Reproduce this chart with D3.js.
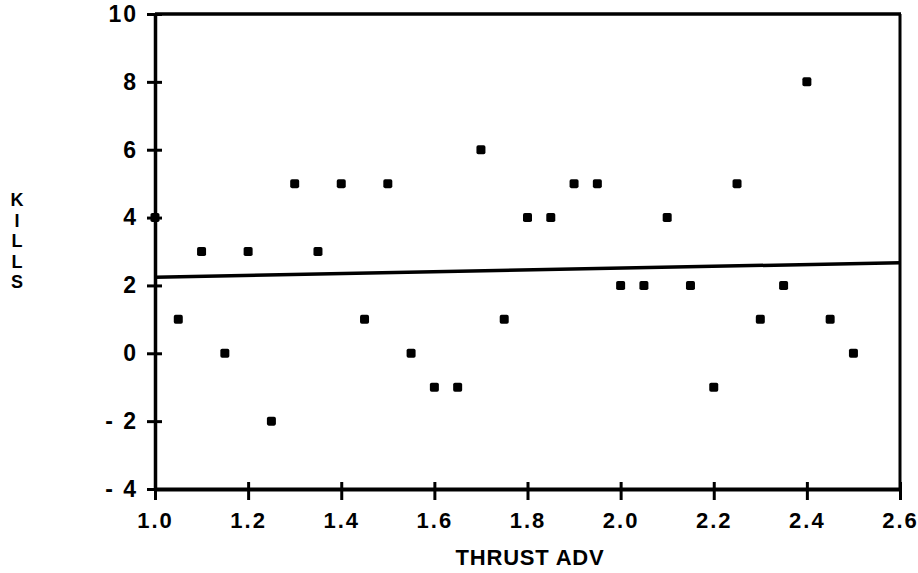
<!DOCTYPE html>
<html>
<head>
<meta charset="utf-8">
<script src="https://cdn.jsdelivr.net/npm/d3@7"></script>
<style>
  body { margin: 0; background: #fff; }
  svg text { font-family: "Liberation Sans", Arial, sans-serif; fill: #000; }
</style>
</head>
<body>
<svg id="chart" width="918" height="573"></svg>
<script>
// ---- data ----
const thrustAdv = [1.00, 1.05, 1.10, 1.15, 1.20, 1.25, 1.30, 1.35, 1.40, 1.45, 1.50,
                   1.55, 1.60, 1.65, 1.70, 1.75, 1.80, 1.85, 1.90, 1.95, 2.00,
                   2.05, 2.10, 2.15, 2.20, 2.25, 2.30, 2.35, 2.40, 2.45, 2.50];
const kills = [4, 1, 3, 0, 3, -2, 5, 3, 5, 1, 5,
               0, -1, -1, 6, 1, 4, 4, 5, 5, 2,
               2, 4, 2, -1, 5, 1, 2, 8, 1, 0];
const fitX = [1.0, 2.6];
const fitY = [2.24, 2.67];
const xTicks = [1.0, 1.2, 1.4, 1.6, 1.8, 2.0, 2.2, 2.4, 2.6];
const xTickLabels = ["1.0", "1.2", "1.4", "1.6", "1.8", "2.0", "2.2", "2.4", "2.6"];
const yTicks = [-4, -2, 0, 2, 4, 6, 8, 10];
const yTickLabels = ["- 4", "- 2", "0", "2", "4", "6", "8", "10"];
const xTitle = "THRUST ADV";
const yTitle = "KILLS";

// ---- layout ----
const svg = d3.select("#chart");
const mLeft = 155, mRight = 900, mTop = 14, mBottom = 489;
const x = d3.scaleLinear().domain([1.0, 2.6]).range([mLeft, mRight]);
const y = d3.scaleLinear().domain([-4, 10]).range([mBottom, mTop]);

// frame (top and right lines, no ticks)
svg.append("line").attr("x1", mLeft).attr("x2", mRight + 1).attr("y1", mTop).attr("y2", mTop)
  .attr("stroke", "#000").attr("stroke-width", 3.5);
svg.append("line").attr("x1", mRight).attr("x2", mRight).attr("y1", mTop).attr("y2", mBottom)
  .attr("stroke", "#000").attr("stroke-width", 3);

// x axis
const xAxis = d3.axisBottom(x).tickValues(xTicks)
  .tickFormat((d, i) => xTickLabels[i]).tickSizeInner(11).tickSizeOuter(0).tickPadding(12);
const gx = svg.append("g").attr("transform", `translate(0,${mBottom})`).call(xAxis);
gx.select(".domain").attr("stroke", "#000").attr("stroke-width", 4);
gx.selectAll(".tick line").attr("stroke", "#000").attr("stroke-width", 3).attr("y1", -7);
gx.selectAll(".tick text").attr("font-size", 22).attr("font-weight", "bold").attr("letter-spacing", 2);

// y axis
const yAxis = d3.axisLeft(y).tickValues(yTicks)
  .tickFormat((d, i) => yTickLabels[i]).tickSizeInner(8).tickSizeOuter(0).tickPadding(9);
const gy = svg.append("g").attr("transform", `translate(${mLeft},0)`).call(yAxis);
gy.select(".domain").attr("stroke", "#000").attr("stroke-width", 3.5);
gy.selectAll(".tick line").attr("stroke", "#000").attr("stroke-width", 3).attr("x2", 7).attr("x1", -8);
gy.selectAll(".tick text").attr("font-size", 23).attr("font-weight", "bold").attr("letter-spacing", 2);

// fit line
svg.append("line")
  .attr("x1", x(fitX[0])).attr("y1", y(fitY[0]))
  .attr("x2", x(fitX[1])).attr("y2", y(fitY[1]))
  .attr("stroke", "#000").attr("stroke-width", 3.5);

// points
const pts = thrustAdv.map((v, i) => ({ x: v, y: kills[i] }));
const s = 9;
svg.append("g").selectAll("rect").data(pts).join("rect")
  .attr("x", d => x(d.x) - s / 2).attr("y", d => y(d.y) - s / 2)
  .attr("width", s).attr("height", s).attr("rx", 1.8)
  .attr("fill", "#000");

// axis titles
svg.append("text").attr("x", 530).attr("y", 565).attr("text-anchor", "middle")
  .attr("font-size", 22).attr("font-weight", "bold").attr("letter-spacing", 0.8).text(xTitle);

const yl = svg.append("text").attr("font-size", 18).attr("font-weight", "bold").attr("text-anchor", "middle");
yTitle.split("").forEach((ch, i) => {
  yl.append("tspan").attr("x", 17).attr("y", 206 + i * 20.5).text(ch);
});
</script>
</body>
</html>
